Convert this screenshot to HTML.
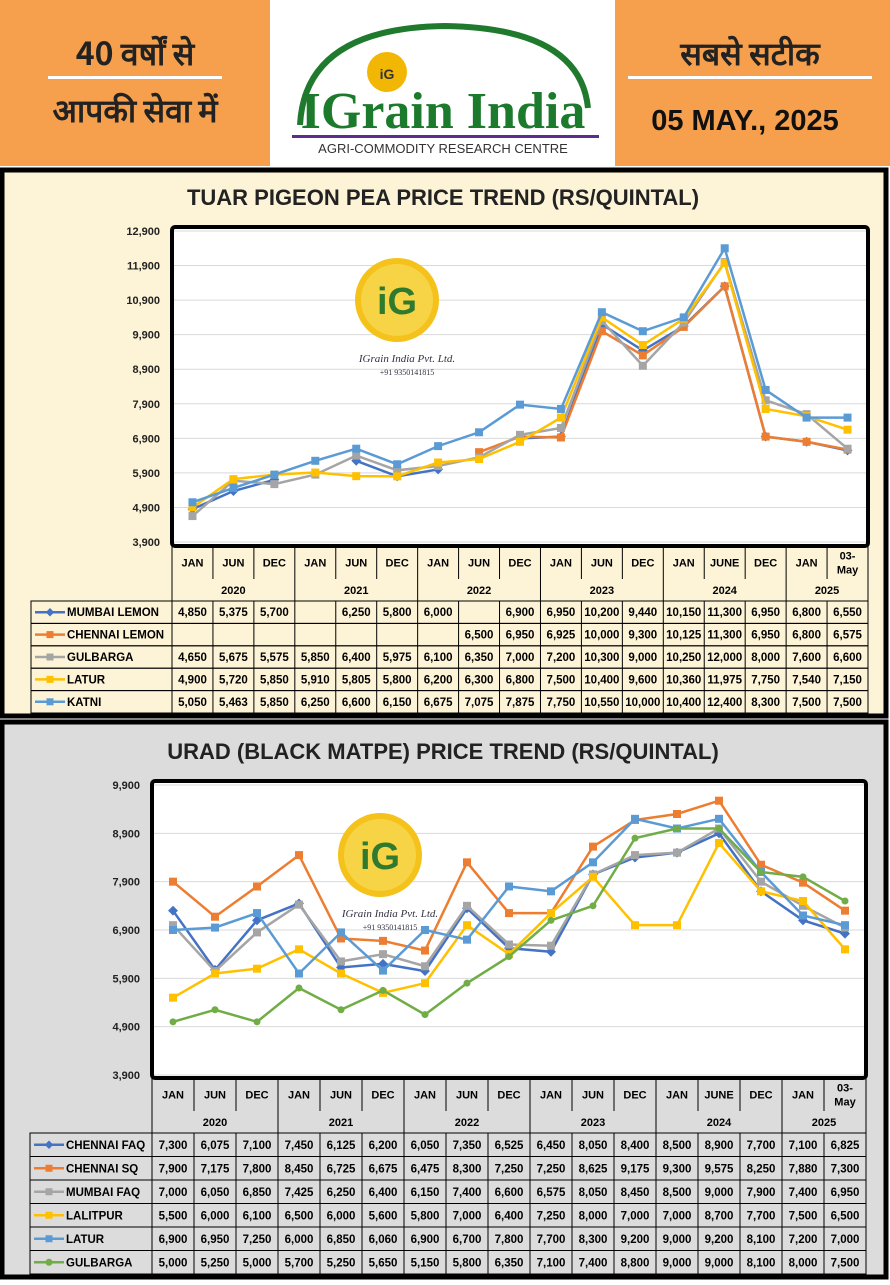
<!DOCTYPE html>
<html><head><meta charset="utf-8"><style>
body{margin:0;width:890px;height:1280px;overflow:hidden;background:#fff;font-family:"Liberation Sans","Noto Sans CJK SC",sans-serif}
svg text{font-family:"Liberation Sans Narrow","Liberation Sans",sans-serif}
</style></head><body>
<svg id="s" width="890" height="1280" xmlns="http://www.w3.org/2000/svg">
<rect x="0" y="0" width="890" height="1280" fill="#fff"/>
<rect x="0" y="0" width="270" height="166" fill="#f6a04d"/>
<rect x="615" y="0" width="275" height="166" fill="#f6a04d"/>
<text x="135" y="65" font-size="32" text-anchor="middle" font-weight="bold" style="font-family:'Noto Sans CJK SC','WenQuanYi Zen Hei',sans-serif" fill="#222">40 वर्षों से</text>
<rect x="48" y="76" width="174" height="3" fill="#fff"/>
<text x="135" y="122" font-size="32" text-anchor="middle" font-weight="bold" style="font-family:'Noto Sans CJK SC','WenQuanYi Zen Hei',sans-serif" fill="#222">आपकी सेवा में</text>
<text x="750" y="65" font-size="32" text-anchor="middle" font-weight="bold" style="font-family:'Noto Sans CJK SC','WenQuanYi Zen Hei',sans-serif" fill="#222">सबसे सटीक</text>
<rect x="628" y="76" width="244" height="3" fill="#fff"/>
<text x="745" y="130" font-size="29" text-anchor="middle" font-weight="bold" style="font-family:'Liberation Sans',sans-serif" fill="#111">05 MAY., 2025</text>
<path d="M300 125 Q 305 28 445 26 Q 580 28 588 108" fill="none" stroke="#1f7a2e" stroke-width="6"/>
<circle cx="387" cy="72" r="20" fill="#f2b705"/>
<text x="387" y="79" font-size="14" text-anchor="middle" fill="#333" font-weight="bold">iG</text>
<text x="443" y="128" font-size="52" text-anchor="middle" font-weight="bold" fill="#1c7a2c" style="font-family:'Liberation Serif',serif">IGrain India</text>
<rect x="292" y="135" width="307" height="3" fill="#5b2d8e"/>
<text x="443" y="153" font-size="13" text-anchor="middle" fill="#333" style="font-family:'Liberation Sans Narrow',sans-serif">AGRI-COMMODITY RESEARCH CENTRE</text>
<rect x="2" y="170" width="884" height="546" fill="#fdf3d6" stroke="#000" stroke-width="5"/>
<rect x="2" y="722" width="884" height="555" fill="#dcdcdc" stroke="#000" stroke-width="5"/>
<text x="443" y="205" font-size="22" text-anchor="middle" font-weight="bold" fill="#222" style="font-family:'Liberation Sans',sans-serif">TUAR PIGEON PEA PRICE TREND (RS/QUINTAL)</text>
<text x="443" y="759" font-size="22" text-anchor="middle" font-weight="bold" fill="#222" style="font-family:'Liberation Sans',sans-serif">URAD (BLACK MATPE) PRICE TREND (RS/QUINTAL)</text>
<g id="g1"></g><g id="g2"></g>
</svg>
<script>
const NS="http://www.w3.org/2000/svg";
function el(p,t,a,txt){const e=document.createElementNS(NS,t);for(const k in a)e.setAttribute(k,a[k]);if(txt!==undefined)e.textContent=txt;p.appendChild(e);return e;}
const months=["JAN","JUN","DEC","JAN","JUN","DEC","JAN","JUN","DEC","JAN","JUN","DEC","JAN","JUNE","DEC","JAN","03-May"];
const years=[["2020",0,3],["2021",3,6],["2022",6,9],["2023",9,12],["2024",12,15],["2025",15,17]];
function chart(g,cfg){
 const {x0,x1,by0,by1,py0,py1,tb,rowH,lab0,series}=cfg;
 const cw=(x1-x0)/17;
 el(g,"rect",{x:x0,y:by0,width:x1-x0,height:by1-by0,fill:"#fff",stroke:"#000","stroke-width":4,rx:3});
 for(let v=3900;v<=cfg.max;v+=1000){const y=py1-(v-3900)/(cfg.max-3900)*(py1-py0);
  el(g,"line",{x1:x0+2,x2:x1-2,y1:y,y2:y,stroke:"#d9d9d9","stroke-width":1});
  el(g,"text",{x:x0-12,y:y+4,"font-size":11,"text-anchor":"end","font-weight":"bold",fill:"#222"},v.toLocaleString("en-US"));}
 const wx=cfg.wx,wy=cfg.wy;
 el(g,"circle",{cx:wx,cy:wy,r:42,fill:"#f4c21a"});
 el(g,"circle",{cx:wx,cy:wy,r:36,fill:"#f7d445"});
 el(g,"text",{x:wx,y:wy+14,"font-size":38,"text-anchor":"middle","font-weight":"bold",fill:"#2f7a2f"},"iG");
 el(g,"text",{x:wx+10,y:wy+62,"font-size":11,"text-anchor":"middle","font-style":"italic",fill:"#334","style":"font-family:'Liberation Serif',serif"},"IGrain India Pvt. Ltd.");
 el(g,"text",{x:wx+10,y:wy+75,"font-size":8,"text-anchor":"middle",fill:"#334","style":"font-family:'Liberation Serif',serif"},"+91 9350141815");
 const Y=v=>py1-(v-3900)/(cfg.max-3900)*(py1-py0);
 series.forEach(s=>{
  let d="",pen=false;
  s.v.forEach((v,i)=>{if(v==null){pen=false;return;}const x=x0+cw*(i+.5),y=Y(v);d+=(pen?"L":"M")+x+" "+y+" ";pen=true;});
  el(g,"path",{d,fill:"none",stroke:s.c,"stroke-width":2.5});
  s.v.forEach((v,i)=>{if(v==null)return;const x=x0+cw*(i+.5),y=Y(v);
   if(s.m=="d")el(g,"rect",{x:x-3.5,y:y-3.5,width:7,height:7,fill:s.c,transform:`rotate(45 ${x} ${y})`});
   else if(s.m=="c")el(g,"circle",{cx:x,cy:y,r:3.5,fill:s.c});
   else el(g,"rect",{x:x-4,y:y-4,width:8,height:8,fill:s.c});});
 });
 const t0=tb,mh=cfg.mh,yh=cfg.yh;
 el(g,"line",{x1:x0,x2:x1,y1:t0,y2:t0,stroke:"#000"});
 for(let i=0;i<=17;i++){const x=x0+cw*i;el(g,"line",{x1:x,x2:x,y1:t0,y2:t0+mh,stroke:"#000"});}
 months.forEach((m,i)=>{const x=x0+cw*(i+.5);
  if(m=="03-May"){el(g,"text",{x,y:t0+mh/2-3,"font-size":11,"text-anchor":"middle","font-weight":"bold"},"03-");el(g,"text",{x,y:t0+mh/2+11,"font-size":11,"text-anchor":"middle","font-weight":"bold"},"May");}
  else el(g,"text",{x,y:t0+mh/2+4,"font-size":11,"text-anchor":"middle","font-weight":"bold"},m);});
 years.forEach(([yr,a,b])=>{el(g,"text",{x:x0+cw*(a+b)/2,y:t0+mh+yh/2+4,"font-size":11,"text-anchor":"middle","font-weight":"bold"},yr);
  el(g,"line",{x1:x0+cw*b,x2:x0+cw*b,y1:t0+mh,y2:t0+mh+yh,stroke:"#000"});});
 el(g,"line",{x1:x0,x2:x0,y1:t0,y2:t0+mh+yh,stroke:"#000"});
 const r0=t0+mh+yh;
 series.forEach((s,r)=>{const y=r0+rowH*r;
  el(g,"rect",{x:lab0,y,width:x1-lab0,height:rowH,fill:"none",stroke:"#000","stroke-width":1});
  for(let i=0;i<=17;i++){const x=x0+cw*i;el(g,"line",{x1:x,x2:x,y1:y,y2:y+rowH,stroke:"#000"});}
  el(g,"line",{x1:lab0+4,x2:lab0+34,y1:y+rowH/2,y2:y+rowH/2,stroke:s.c,"stroke-width":2.5});
  const mx=lab0+19,my=y+rowH/2;
  if(s.m=="d")el(g,"rect",{x:mx-3,y:my-3,width:6,height:6,fill:s.c,transform:`rotate(45 ${mx} ${my})`});
  else if(s.m=="c")el(g,"circle",{cx:mx,cy:my,r:3.5,fill:s.c});
  else el(g,"rect",{x:mx-3.5,y:my-3.5,width:7,height:7,fill:s.c});
  el(g,"text",{x:lab0+36,y:y+rowH/2+4,"font-size":11.5,"font-weight":"bold"},s.n);
  s.v.forEach((v,i)=>{if(v==null)return;el(g,"text",{x:x0+cw*(i+.5),y:y+rowH/2+4,"font-size":11.5,"text-anchor":"middle","font-weight":"bold"},v.toLocaleString("en-US"));});
 });
}
const N=null;
chart(document.getElementById("g1"),{x0:172,x1:868,by0:227,by1:546,py0:231,py1:542,max:12900,tb:546,mh:33,yh:22,rowH:22.4,lab0:31,wx:397,wy:300,
series:[
{n:"MUMBAI LEMON",c:"#4472c4",m:"d",v:[4850,5375,5700,N,6250,5800,6000,N,6900,6950,10200,9440,10150,11300,6950,6800,6550]},
{n:"CHENNAI LEMON",c:"#ed7d31",m:"s",v:[N,N,N,N,N,N,N,6500,6950,6925,10000,9300,10125,11300,6950,6800,6575]},
{n:"GULBARGA",c:"#a5a5a5",m:"s",v:[4650,5675,5575,5850,6400,5975,6100,6350,7000,7200,10300,9000,10250,12000,8000,7600,6600]},
{n:"LATUR",c:"#ffc000",m:"s",v:[4900,5720,5850,5910,5805,5800,6200,6300,6800,7500,10400,9600,10360,11975,7750,7540,7150]},
{n:"KATNI",c:"#5b9bd5",m:"s",v:[5050,5463,5850,6250,6600,6150,6675,7075,7875,7750,10550,10000,10400,12400,8300,7500,7500]}]});
chart(document.getElementById("g2"),{x0:152,x1:866,by0:781,by1:1078,py0:785,py1:1075,max:9900,tb:1078,mh:33,yh:22,rowH:23.5,lab0:30,wx:380,wy:855,
series:[
{n:"CHENNAI FAQ",c:"#4472c4",m:"d",v:[7300,6075,7100,7450,6125,6200,6050,7350,6525,6450,8050,8400,8500,8900,7700,7100,6825]},
{n:"CHENNAI SQ",c:"#ed7d31",m:"s",v:[7900,7175,7800,8450,6725,6675,6475,8300,7250,7250,8625,9175,9300,9575,8250,7880,7300]},
{n:"MUMBAI FAQ",c:"#a5a5a5",m:"s",v:[7000,6050,6850,7425,6250,6400,6150,7400,6600,6575,8050,8450,8500,9000,7900,7400,6950]},
{n:"LALITPUR",c:"#ffc000",m:"s",v:[5500,6000,6100,6500,6000,5600,5800,7000,6400,7250,8000,7000,7000,8700,7700,7500,6500]},
{n:"LATUR",c:"#5b9bd5",m:"s",v:[6900,6950,7250,6000,6850,6060,6900,6700,7800,7700,8300,9200,9000,9200,8100,7200,7000]},
{n:"GULBARGA",c:"#70ad47",m:"c",v:[5000,5250,5000,5700,5250,5650,5150,5800,6350,7100,7400,8800,9000,9000,8100,8000,7500]}]});
</script>
</body></html>
